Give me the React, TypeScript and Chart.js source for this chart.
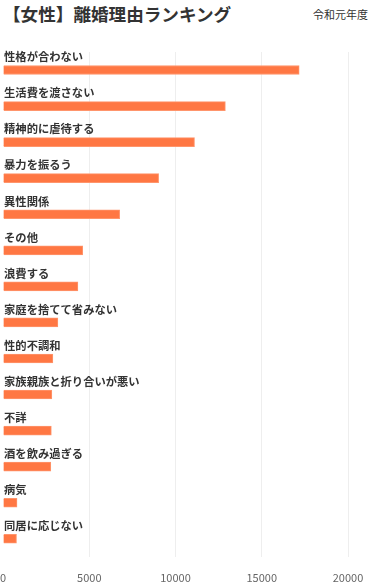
import React, { useEffect, useRef } from "react";
import { Chart, registerables } from "chart.js";

Chart.register(...registerables);

const categories = [
  "性格が合わない",
  "生活費を渡さない",
  "精神的に虐待する",
  "暴力を振るう",
  "異性関係",
  "その他",
  "浪費する",
  "家庭を捨てて省みない",
  "性的不調和",
  "家族親族と折り合いが悪い",
  "不詳",
  "酒を飲み過ぎる",
  "病気",
  "同居に応じない",
];
const values = [17170, 12890, 11100, 9020, 6760, 4620, 4340, 3180, 2890, 2830, 2800, 2770, 810, 780];
const titleText = "【女性】離婚理由ランキング";
const subtitleText = "令和元年度";
const xTicks = [0, 5000, 10000, 15000, 20000];

const FONT = '"Noto Sans CJK JP", "Noto Sans", sans-serif';

const labelPlugin = {
  id: "barLabels",
  afterDatasetsDraw(chart: any) {
    const ctx = chart.ctx;
    const meta = chart.getDatasetMeta(0);
    ctx.save();
    ctx.font = `bold 11.3px ${FONT}`;
    ctx.fillStyle = "#333";
    ctx.textBaseline = "middle";
    ctx.textAlign = "left";
    meta.data.forEach((bar: any, i: number) => {
      ctx.fillText(categories[i], chart.chartArea.left + 1, bar.y - 13);
    });
    ctx.restore();
  },
};

export default function App() {
  const ref = useRef<HTMLCanvasElement>(null);
  useEffect(() => {
    const chart = new Chart(ref.current!, {
      type: "bar",
      data: {
        labels: categories,
        datasets: [
          {
            data: values,
            backgroundColor: "#FF7743",
            borderColor: "#FF956C",
            borderWidth: 1,
            barThickness: 9,
          },
        ],
      },
      options: {
        indexAxis: "y",
        animation: false,
        responsive: false,
        maintainAspectRatio: false,
        layout: { padding: { top: 52, left: 2, right: 22, bottom: 0 } },
        plugins: { legend: { display: false }, tooltip: { enabled: false }, title: { display: false } },
        scales: {
          y: { display: false },
          x: {
            min: 0,
            max: 20000,
            afterBuildTicks: (axis: any) => {
              axis.ticks = xTicks.map((v) => ({ value: v }));
            },
            grid: {
              color: (c: any) => (c.tick && c.tick.value === 0 ? "rgba(0,0,0,0)" : "#eeeeee"),
              drawTicks: true,
              tickLength: 14,
              tickColor: "rgba(0,0,0,0)",
            },
            border: { display: false },
            ticks: {
              padding: 0,
              color: "#666",
              font: { size: 11, family: FONT },
              maxRotation: 0,
              callback: (v: any) => String(v),
            },
          },
        },
      },
      plugins: [labelPlugin],
    });
    return () => chart.destroy();
  }, []);
  return (
    <div style={{ position: "absolute", left: 0, top: 0, width: 370, height: 584, background: "#fff" }}>
      <div
        style={{
          position: "absolute",
          left: 3,
          top: 1,
          fontFamily: FONT,
          fontWeight: "bold",
          fontSize: 17.6,
          lineHeight: "26px",
          color: "#333",
          whiteSpace: "nowrap",
        }}
      >
        {titleText}
      </div>
      <div
        style={{
          position: "absolute",
          right: 2,
          top: 6,
          fontFamily: FONT,
          fontSize: 11,
          lineHeight: "16px",
          color: "#333",
          whiteSpace: "nowrap",
        }}
      >
        {subtitleText}
      </div>
      <canvas ref={ref} width={370} height={584} style={{ position: "absolute", left: 0, top: 0 }} />
    </div>
  );
}
